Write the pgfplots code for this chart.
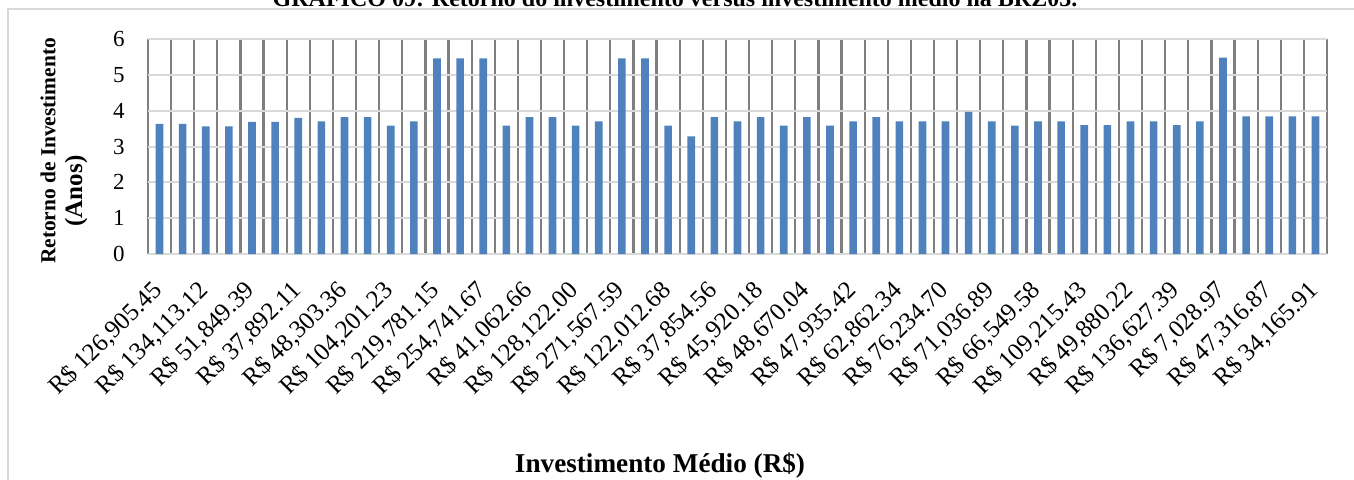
\documentclass[border=0pt]{standalone}
\usepackage{fontspec}
\setmainfont{Liberation Serif}
\usepackage{pgfplots}
\pgfplotsset{compat=1.18}
\definecolor{barblue}{HTML}{4F81BD}
\definecolor{vgrid}{HTML}{7F7F7F}
\definecolor{hgrid}{HTML}{D9D9D9}
\begin{document}
\begin{tikzpicture}
% page area and chart frame
\useasboundingbox (0,0) rectangle (677pt,-239.5pt);
\clip (0,0) rectangle (677pt,-239.5pt);
\draw[hgrid, line width=1pt] (4pt,-4.5pt) rectangle (700pt,-260pt);
\node[font=\fontsize{12}{14}\selectfont\bfseries, anchor=base, inner sep=0pt]
  at (337.5pt,-3.2pt) {GRÁFICO 09: Retorno do investimento versus investimento médio na BRZ03.};
\begin{axis}[
  at={(74pt,-127pt)}, anchor=south west,
  scale only axis, width=589.5pt, height=107.5pt,
  xmin=-0.5, xmax=50.5, ymin=0, ymax=6,
  ytick={0,1,...,6},
  xtick={0,2,...,50},
  xticklabels={{R\$ 126,905.45},{R\$ 134,113.12},{R\$ 51,849.39},{R\$ 37,892.11},
    {R\$ 48,303.36},{R\$ 104,201.23},{R\$ 219,781.15},{R\$ 254,741.67},
    {R\$ 41,062.66},{R\$ 128,122.00},{R\$ 271,567.59},{R\$ 122,012.68},
    {R\$ 37,854.56},{R\$ 45,920.18},{R\$ 48,670.04},{R\$ 47,935.42},
    {R\$ 62,862.34},{R\$ 76,234.70},{R\$ 71,036.89},{R\$ 66,549.58},
    {R\$ 109,215.43},{R\$ 49,880.22},{R\$ 136,627.39},{R\$ 7,028.97},
    {R\$ 47,316.87},{R\$ 34,165.91}},
  minor xtick={-0.5,0.5,...,50.5},
  xminorgrids, ymajorgrids,
  major grid style={hgrid, line width=1pt},
  minor grid style={vgrid, line width=1.1pt},
  major tick length=0pt, minor tick length=0pt,
  tick style={draw=none},
  axis line style={draw=none},
  /pgf/number format/assume math mode=true,
  yticklabel style={font=\fontsize{11.5}{13}\selectfont, anchor=east, inner sep=0pt, xshift=-11.5pt},
  xticklabel shift=12pt,
  xticklabel style={font=\fontsize{12.5}{14}\selectfont, xshift=-4.5pt, rotate=45, anchor=north east, inner sep=0pt},
]
\addplot[ybar, bar width=0.33, fill=barblue, draw=none] coordinates {
  (0,3.63) (1,3.63) (2,3.56) (3,3.56) (4,3.69) (5,3.69) (6,3.80) (7,3.70)
  (8,3.82) (9,3.82) (10,3.58) (11,3.70) (12,5.46) (13,5.46) (14,5.46) (15,3.58)
  (16,3.82) (17,3.82) (18,3.58) (19,3.70) (20,5.46) (21,5.46) (22,3.58) (23,3.28)
  (24,3.82) (25,3.70) (26,3.82) (27,3.58) (28,3.82) (29,3.58) (30,3.70) (31,3.82)
  (32,3.70) (33,3.70) (34,3.70) (35,3.97) (36,3.70) (37,3.58) (38,3.70) (39,3.70)
  (40,3.60) (41,3.60) (42,3.70) (43,3.70) (44,3.60) (45,3.70) (46,5.48) (47,3.84)
  (48,3.84) (49,3.84) (50,3.84)
};
\end{axis}
% axis titles
\node[rotate=90, font=\fontsize{10.7}{12}\selectfont\bfseries]
  at (24pt,-75.5pt) {Retorno de Investimento};
\node[rotate=90, font=\fontsize{12.5}{14}\selectfont\bfseries]
  at (38pt,-95.5pt) {(Anos)};
\node[font=\fontsize{13.6}{15}\selectfont\bfseries, anchor=base, inner sep=0pt]
  at (330pt,-236pt) {Investimento Médio (R\$)};
\end{tikzpicture}
\end{document}
